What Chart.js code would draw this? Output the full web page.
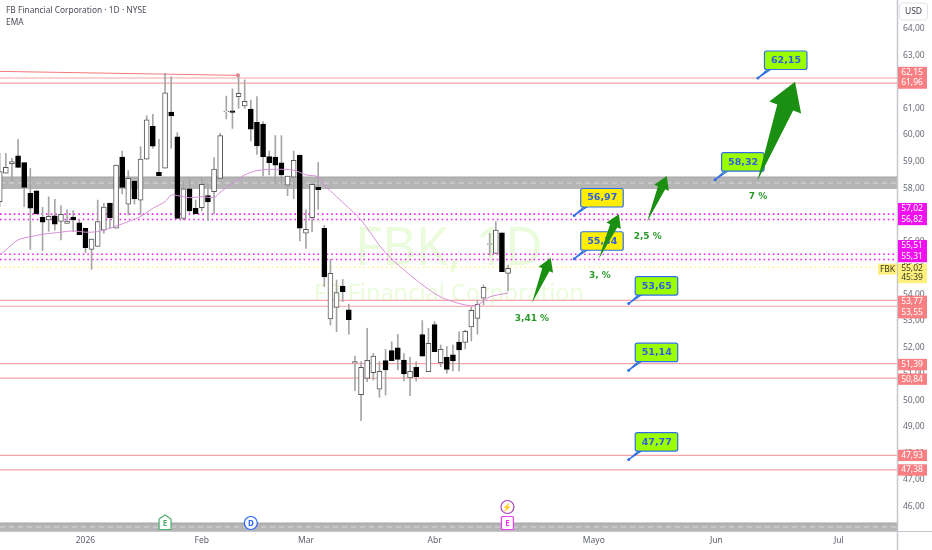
<!DOCTYPE html>
<html>
<head>
<meta charset="utf-8">
<title>FBK</title>
<script src="https://cdn.jsdelivr.net/npm/chart.js@4/dist/chart.umd.min.js"></script>
<style>
  body { margin: 0; background: #fff; }
  canvas { display: block; }
</style>
</head>
<body>
<canvas id="chart" width="932" height="550"></canvas>
<script>
// Candles, oldest first (prices)
const opens = [57.49,58.56,58.92,59.22,58.96,57.80,57.90,56.90,56.80,56.96,56.75,56.67,56.91,56.69,56.49,55.69,55.80,56.42,57.44,56.49,59.17,57.40,58.27,57.55,59.09,60.33,58.60,58.75,60.87,59.93,56.86,57.97,57.24,57.26,57.72,57.87,58.37,60.88,60.91,61.45,61.10,60.98,60.48,60.41,59.19,59.17,58.95,58.11,58.41,59.25,56.30,56.89,58.03,56.49,53.07,53.51,54.31,53.41,51.42,50.22,50.83,51.05,50.42,51.50,51.88,51.98,51.52,50.85,51.25,52.48,51.08,52.86,51.42,51.62,51.72,52.20,52.19,52.77,53.09,53.85,55.88,55.54,56.32,54.79];
const highs = [59.31,59.31,59.12,59.84,58.96,58.75,57.90,57.28,57.67,57.58,57.34,57.18,57.15,56.80,56.49,56.08,57.55,57.43,57.44,58.87,59.40,58.66,58.27,59.56,60.73,60.78,59.84,62.33,62.20,60.09,58.25,58.35,57.55,58.41,58.18,59.15,60.07,61.47,61.74,62.26,62.08,61.32,61.45,60.51,59.40,59.98,59.98,58.45,59.40,59.25,57.18,58.14,58.97,56.59,55.32,54.54,54.56,53.63,51.67,51.46,52.72,51.77,51.46,51.93,52.21,52.49,51.77,51.62,51.46,53.01,52.72,52.97,52.09,52.03,52.09,52.59,52.65,53.51,53.78,54.35,56.30,56.74,56.32,55.10];
const lows = [57.30,58.56,58.28,58.78,57.30,55.69,57.03,55.64,56.37,56.42,56.05,56.67,56.36,56.25,55.57,54.94,55.80,56.30,56.49,56.49,57.78,56.99,57.40,56.99,59.09,59.50,58.47,58.75,59.50,56.86,56.80,57.09,57.04,57.15,56.78,57.03,58.37,60.61,60.25,61.01,61.01,59.78,59.27,58.46,58.50,58.16,58.16,57.72,57.60,56.01,55.73,56.36,57.20,54.29,52.84,52.59,53.72,52.49,50.37,49.24,50.71,50.77,50.12,50.20,51.50,51.15,50.74,50.18,50.73,51.67,51.08,51.84,51.27,51.02,51.11,51.11,51.94,52.24,52.50,53.60,55.48,55.54,54.85,54.14];
const closes = [58.62,58.78,59.00,58.78,58.03,57.25,57.03,56.72,56.94,56.64,57.01,56.76,56.80,56.25,55.76,56.08,56.74,57.29,56.89,58.87,58.03,58.37,57.59,59.10,60.57,59.58,58.47,61.59,60.72,56.86,57.97,57.14,57.04,58.14,57.48,58.72,59.98,60.90,60.85,61.57,61.27,60.22,59.59,59.19,58.96,58.87,58.50,58.45,59.05,56.49,56.45,58.14,57.94,54.65,54.79,54.06,54.10,53.04,51.46,51.25,51.51,51.67,51.10,51.15,51.50,51.55,51.00,51.10,50.90,51.67,52.15,51.84,51.93,51.17,51.49,51.90,52.60,53.40,53.62,54.26,55.90,56.42,54.85,54.98];

// EMA, sampled at candle positions
const emaIdx = [0,1,3,5,7,10,12,14,16,18,21,23,25,27,28,29,31,33,35,36,38,40,42,45,48,50,52,53,55,57,59,63,68,72,76,78,80,83];
const emaVals = [55.48,55.67,56.05,56.17,56.26,56.34,56.39,56.34,56.36,56.49,56.74,56.93,57.24,57.49,57.74,57.72,57.64,57.68,57.65,57.84,58.18,58.50,58.66,58.71,58.68,58.50,58.43,58.12,57.68,57.25,56.80,55.56,54.54,53.90,53.60,53.60,53.90,54.05];

// Horizontal levels
const redLevels = [62.15,61.96,53.77,53.55,51.39,50.84,47.93,47.38];
const magentaLevels = [57.02,56.82,55.51,55.31];
const lastPrice = 55.02;
const countdown = '45:39';
const topBand = [57.97,58.42];
const bottomBand = [45.08,45.38];
const trendIdx = [0.05,38.9];
const trendVals = [62.40,62.25];

// Time axis
const timeIdx = [14,33,50,71,97,117,137];
const timeLabels = ['2026','Feb','Mar','Abr','Mayo','Jun','Jul'];

// Price tags on the right axis, tagShift keeps them from overlapping
const tagVals = [62.15,61.96,57.02,56.82,55.51,55.31,53.77,53.55,51.39,50.84,47.93,47.38];
const tagShift = [-5.5,0,-5.5,0,-8.5,-3,1,6.5,1,1,0,0];

// Callouts
const calloutIdx = [123.8,116.8,93.8,93.8,102.7,102.7,102.7];
const calloutVals = [62.15,58.32,56.97,55.34,53.65,51.14,47.77];
const calloutFill = ['#9cff00','#9cff00','#ffee00','#ffee00','#9cff00','#9cff00','#9cff00'];

// Target arrows and their percent labels
const arrowTailIdx = [86.9,97.8,105.7,123.7];
const arrowTailVal = [53.67,55.33,56.74,58.27];
const arrowTipIdx = [89.96,101.1,108.9,129.85];
const arrowTipVal = [55.37,57.02,58.46,62.01];
const pctLabels = ['3,41 %','3, %','2,5 %','7 %'];
const pctIdx = [86.9,98,105.8,123.8];
const pctVals = [53.07,54.69,56.16,57.67];

// Events along the bottom
const eventIdx = [27,41,82.9,82.9];
const eventKinds = ['earn','div','flash','earnNext'];

const xMin = 0.05, xMax = 146.5;
const font = '"Noto Sans", sans-serif';
const calloutFont = '"DejaVu Sans", sans-serif';

function price(v) {
    return v.toFixed(2).replace('.', ',');
}

function level(v, color, width, dash) {
    return {
        type: 'line',
        data: [{x: xMin, y: v}, {x: xMax, y: v}],
        borderColor: color,
        borderWidth: width,
        borderDash: dash || [],
        pointRadius: 0,
        order: 5
    };
}

function band(range) {
    return {
        type: 'line',
        data: [{x: xMin, y: range[1]}, {x: xMax, y: range[1]}],
        borderColor: '#a4a4a4',
        borderWidth: 1,
        backgroundColor: '#b5b5b5',
        fill: {value: range[0]},
        pointRadius: 0,
        order: 6
    };
}

const wicks = highs.map(function (h, i) { return {x: i, y: [lows[i], h]}; });
const bodies = opens.map(function (o, i) { return {x: i, y: [o, closes[i]]}; });

const datasets = [
    band(topBand),
    band(bottomBand),
    level((topBand[0] + topBand[1]) / 2, '#d8d8d8', 1, [5, 4]),
    level((bottomBand[0] + bottomBand[1]) / 2, '#d8d8d8', 1, [5, 4])
];
redLevels.forEach(function (v) { datasets.push(level(v, '#f9a3a6', 1.2)); });
magentaLevels.forEach(function (v) { datasets.push(level(v, '#f020f0', 1.6, [1.6, 3])); });
datasets.push(level(lastPrice, '#fff08a', 1.6, [1.6, 3]));
datasets.push({
    type: 'line',
    data: trendIdx.map(function (x, i) { return {x: x, y: trendVals[i]}; }),
    borderColor: '#f4797c',
    borderWidth: 1,
    pointRadius: [0, 2],
    pointBackgroundColor: '#f4797c',
    pointBorderWidth: 0,
    order: 4
});
datasets.push({
    type: 'bar',
    data: wicks,
    backgroundColor: '#a6a6a6',
    barThickness: 1,
    grouped: false,
    order: 3
});
datasets.push({
    type: 'bar',
    data: bodies,
    backgroundColor: closes.map(function (c, i) { return c >= opens[i] ? '#ffffff' : '#000000'; }),
    borderColor: closes.map(function (c, i) { return c >= opens[i] ? '#5a5a5a' : '#000000'; }),
    borderWidth: 1,
    borderSkipped: false,
    barThickness: 5,
    grouped: false,
    order: 2
});
datasets.push({
    type: 'line',
    data: emaIdx.map(function (x, i) { return {x: x, y: emaVals[i]}; }),
    borderColor: '#d68fd8',
    borderWidth: 1,
    pointRadius: 0,
    tension: 0.3,
    order: 1
});

function roundBox(ctx, x, y, w, h, r) {
    ctx.beginPath();
    ctx.roundRect(x, y, w, h, r);
}

function drawCallouts(ctx, sx, sy) {
    calloutVals.forEach(function (v, i) {
        const px = sx.getPixelForValue(calloutIdx[i]);
        const py = sy.getPixelForValue(v);
        const bx = px + 6.5, by = py - 27;
        ctx.strokeStyle = '#2f6fe8';
        ctx.fillStyle = '#2f6fe8';
        ctx.lineWidth = 1.2;
        ctx.beginPath();
        ctx.arc(px, py, 1.5, 0, Math.PI * 2);
        ctx.fill();
        ctx.beginPath();
        ctx.moveTo(px, py);
        ctx.lineTo(bx + 3, by + 18.5);
        ctx.lineTo(bx + 6, by + 18.5);
        ctx.closePath();
        ctx.fillStyle = calloutFill[i];
        ctx.fill();
        ctx.stroke();
        roundBox(ctx, bx, by, 42.5, 18.5, 2);
        ctx.fill();
        ctx.stroke();
        ctx.fillStyle = '#2f5fe0';
        ctx.font = 'bold 9.5px ' + calloutFont;
        ctx.textAlign = 'center';
        ctx.textBaseline = 'middle';
        ctx.fillText(price(v), bx + 21.5, by + 9.5);
    });
}

function drawArrows(ctx, sx, sy) {
    arrowTipIdx.forEach(function (t, i) {
        const x0 = sx.getPixelForValue(arrowTailIdx[i]), y0 = sy.getPixelForValue(arrowTailVal[i]);
        const x1 = sx.getPixelForValue(t), y1 = sy.getPixelForValue(arrowTipVal[i]);
        const dx = x1 - x0, dy = y1 - y0;
        const bx = x1 - dx * 0.26, by = y1 - dy * 0.26;
        const nx = -dy, ny = dx;
        ctx.fillStyle = '#1a8f12';
        ctx.beginPath();
        ctx.moveTo(x0, y0);
        ctx.lineTo(bx - nx * 0.08, by - ny * 0.08);
        ctx.lineTo(bx - nx * 0.16, by - ny * 0.16);
        ctx.lineTo(x1, y1);
        ctx.lineTo(bx + nx * 0.16, by + ny * 0.16);
        ctx.lineTo(bx + nx * 0.08, by + ny * 0.08);
        ctx.closePath();
        ctx.fill();
    });
    ctx.fillStyle = '#2a9a2a';
    ctx.font = 'bold 9px ' + calloutFont;
    ctx.textAlign = 'center';
    ctx.textBaseline = 'middle';
    pctLabels.forEach(function (t, i) {
        ctx.fillText(t, sx.getPixelForValue(pctIdx[i]), sy.getPixelForValue(pctVals[i]));
    });
}

function drawEvents(ctx, sx) {
    eventKinds.forEach(function (k, i) {
        const px = sx.getPixelForValue(eventIdx[i]);
        const py = k === 'flash' ? 507 : 523;
        const color = {earn: '#4caf6e', div: '#2962ff', flash: '#ab47bc', earnNext: '#f03cf0'}[k];
        ctx.strokeStyle = color;
        ctx.fillStyle = '#ffffff';
        ctx.lineWidth = 1.2;
        if (k === 'earn') {
            ctx.beginPath();
            ctx.moveTo(px - 6, py - 4);
            ctx.lineTo(px, py - 8);
            ctx.lineTo(px + 6, py - 4);
            ctx.lineTo(px + 6, py + 6.5);
            ctx.lineTo(px - 6, py + 6.5);
            ctx.closePath();
            ctx.fill();
            ctx.stroke();
        } else if (k === 'earnNext') {
            roundBox(ctx, px - 6, py - 6.5, 12, 13, 1);
            ctx.fill();
            ctx.stroke();
        } else {
            ctx.beginPath();
            ctx.arc(px, py, 6.5, 0, Math.PI * 2);
            ctx.fill();
            ctx.stroke();
        }
        ctx.fillStyle = color;
        ctx.font = 'bold 8px ' + font;
        ctx.textAlign = 'center';
        ctx.textBaseline = 'middle';
        const glyph = {earn: 'E', div: 'D', flash: '⚡', earnNext: 'E'}[k];
        ctx.fillText(glyph, px, py + 0.5);
    });
}

function drawTags(ctx, area, sy) {
    ctx.textAlign = 'center';
    ctx.textBaseline = 'middle';
    ctx.font = '8.5px ' + font;
    tagVals.forEach(function (v, i) {
        const cy = sy.getPixelForValue(v) + tagShift[i];
        ctx.fillStyle = magentaLevels.includes(v) ? '#f010f0' : '#f97f82';
        ctx.fillRect(area.right + 1, cy - 5.7, 29, 11.4);
        ctx.fillStyle = '#ffffff';
        ctx.fillText(price(v), area.right + 15, cy);
    });
    // last price with the bar countdown
    const cy = sy.getPixelForValue(lastPrice);
    ctx.fillStyle = '#fdf07f';
    ctx.fillRect(area.right + 1, cy - 3.5, 29, 19.5);
    ctx.fillRect(area.right - 19, cy - 3.5, 19, 11);
    ctx.fillStyle = '#3a3a20';
    ctx.fillText(price(lastPrice), area.right + 15, cy + 1.5);
    ctx.fillText(countdown, area.right + 15, cy + 10.5);
    ctx.fillText('FBK', area.right - 9.5, cy + 2);
    // currency box
    ctx.strokeStyle = '#e2e3e8';
    ctx.lineWidth = 1;
    roundBox(ctx, area.right + 2.5, 3, 28, 17, 3);
    ctx.stroke();
    ctx.fillStyle = '#3c3f4a';
    ctx.fillText('USD', area.right + 16.5, 11.5);
}

const overlay = {
    id: 'overlay',
    beforeDatasetsDraw: function (chart) {
        const ctx = chart.ctx;
        ctx.save();
        ctx.fillStyle = '#eafcdc';
        ctx.textAlign = 'center';
        ctx.textBaseline = 'middle';
        ctx.font = '52px ' + font;
        ctx.fillText('FBK, 1D', 449, 250);
        ctx.font = '23.5px ' + font;
        ctx.fillText('FB Financial Corporation', 449, 294);
        ctx.restore();
    },
    afterDatasetsDraw: function (chart) {
        const ctx = chart.ctx;
        const sx = chart.scales.x, sy = chart.scales.y;
        ctx.save();
        drawCallouts(ctx, sx, sy);
        drawArrows(ctx, sx, sy);
        drawEvents(ctx, sx);
        ctx.restore();
    },
    afterDraw: function (chart) {
        const ctx = chart.ctx;
        const area = chart.chartArea;
        ctx.save();
        ctx.strokeStyle = '#c6c8ce';
        ctx.lineWidth = 1;
        ctx.beginPath();
        ctx.moveTo(0, area.bottom + 0.5);
        ctx.lineTo(932, area.bottom + 0.5);
        ctx.stroke();
        ctx.lineWidth = 1.5;
        ctx.beginPath();
        ctx.moveTo(area.right + 0.5, 0);
        ctx.lineTo(area.right + 0.5, 550);
        ctx.stroke();
        drawTags(ctx, area, chart.scales.y);
        ctx.fillStyle = '#4a4d58';
        ctx.textAlign = 'left';
        ctx.textBaseline = 'middle';
        ctx.font = '8.4px ' + font;
        ctx.fillText('FB Financial Corporation · 1D · NYSE', 6, 11);
        ctx.fillText('EMA', 6, 23);
        ctx.restore();
    }
};

new Chart(document.getElementById('chart'), {
    type: 'bar',
    data: {datasets: datasets},
    plugins: [overlay],
    options: {
        responsive: false,
        animation: false,
        devicePixelRatio: 1,
        layout: {padding: 0, autoPadding: false},
        plugins: {legend: {display: false}, tooltip: {enabled: false}},
        scales: {
            x: {
                type: 'linear',
                min: xMin,
                max: xMax,
                offset: false,
                grid: {display: false, tickLength: 0},
                border: {display: false},
                afterFit: function (s) {
                    s.height = 19;
                    s.paddingLeft = 0;
                    s.paddingRight = 0;
                },
                afterBuildTicks: function (s) {
                    s.ticks = timeIdx.map(function (v) { return {value: v}; });
                },
                ticks: {
                    autoSkip: false,
                    maxRotation: 0,
                    padding: 4,
                    color: '#5f626d',
                    font: {family: '"Noto Sans", sans-serif', size: 8.5},
                    callback: function (v) { return timeLabels[timeIdx.indexOf(v)]; }
                }
            },
            y: {
                position: 'right',
                min: 45.08,
                max: 65.09,
                grid: {display: false, tickLength: 0},
                border: {display: false},
                afterFit: function (s) {
                    s.width = 35;
                    s.paddingTop = 0;
                    s.paddingBottom = 0;
                },
                afterBuildTicks: function (s) {
                    s.ticks = s.ticks.filter(function (t) { return Number.isInteger(t.value) && t.value <= 64; });
                },
                ticks: {
                    stepSize: 1,
                    padding: 6,
                    color: '#6a6d78',
                    font: {family: '"Noto Sans", sans-serif', size: 8.5},
                    callback: function (v) { return price(v); }
                }
            }
        }
    }
});
</script>
</body>
</html>
